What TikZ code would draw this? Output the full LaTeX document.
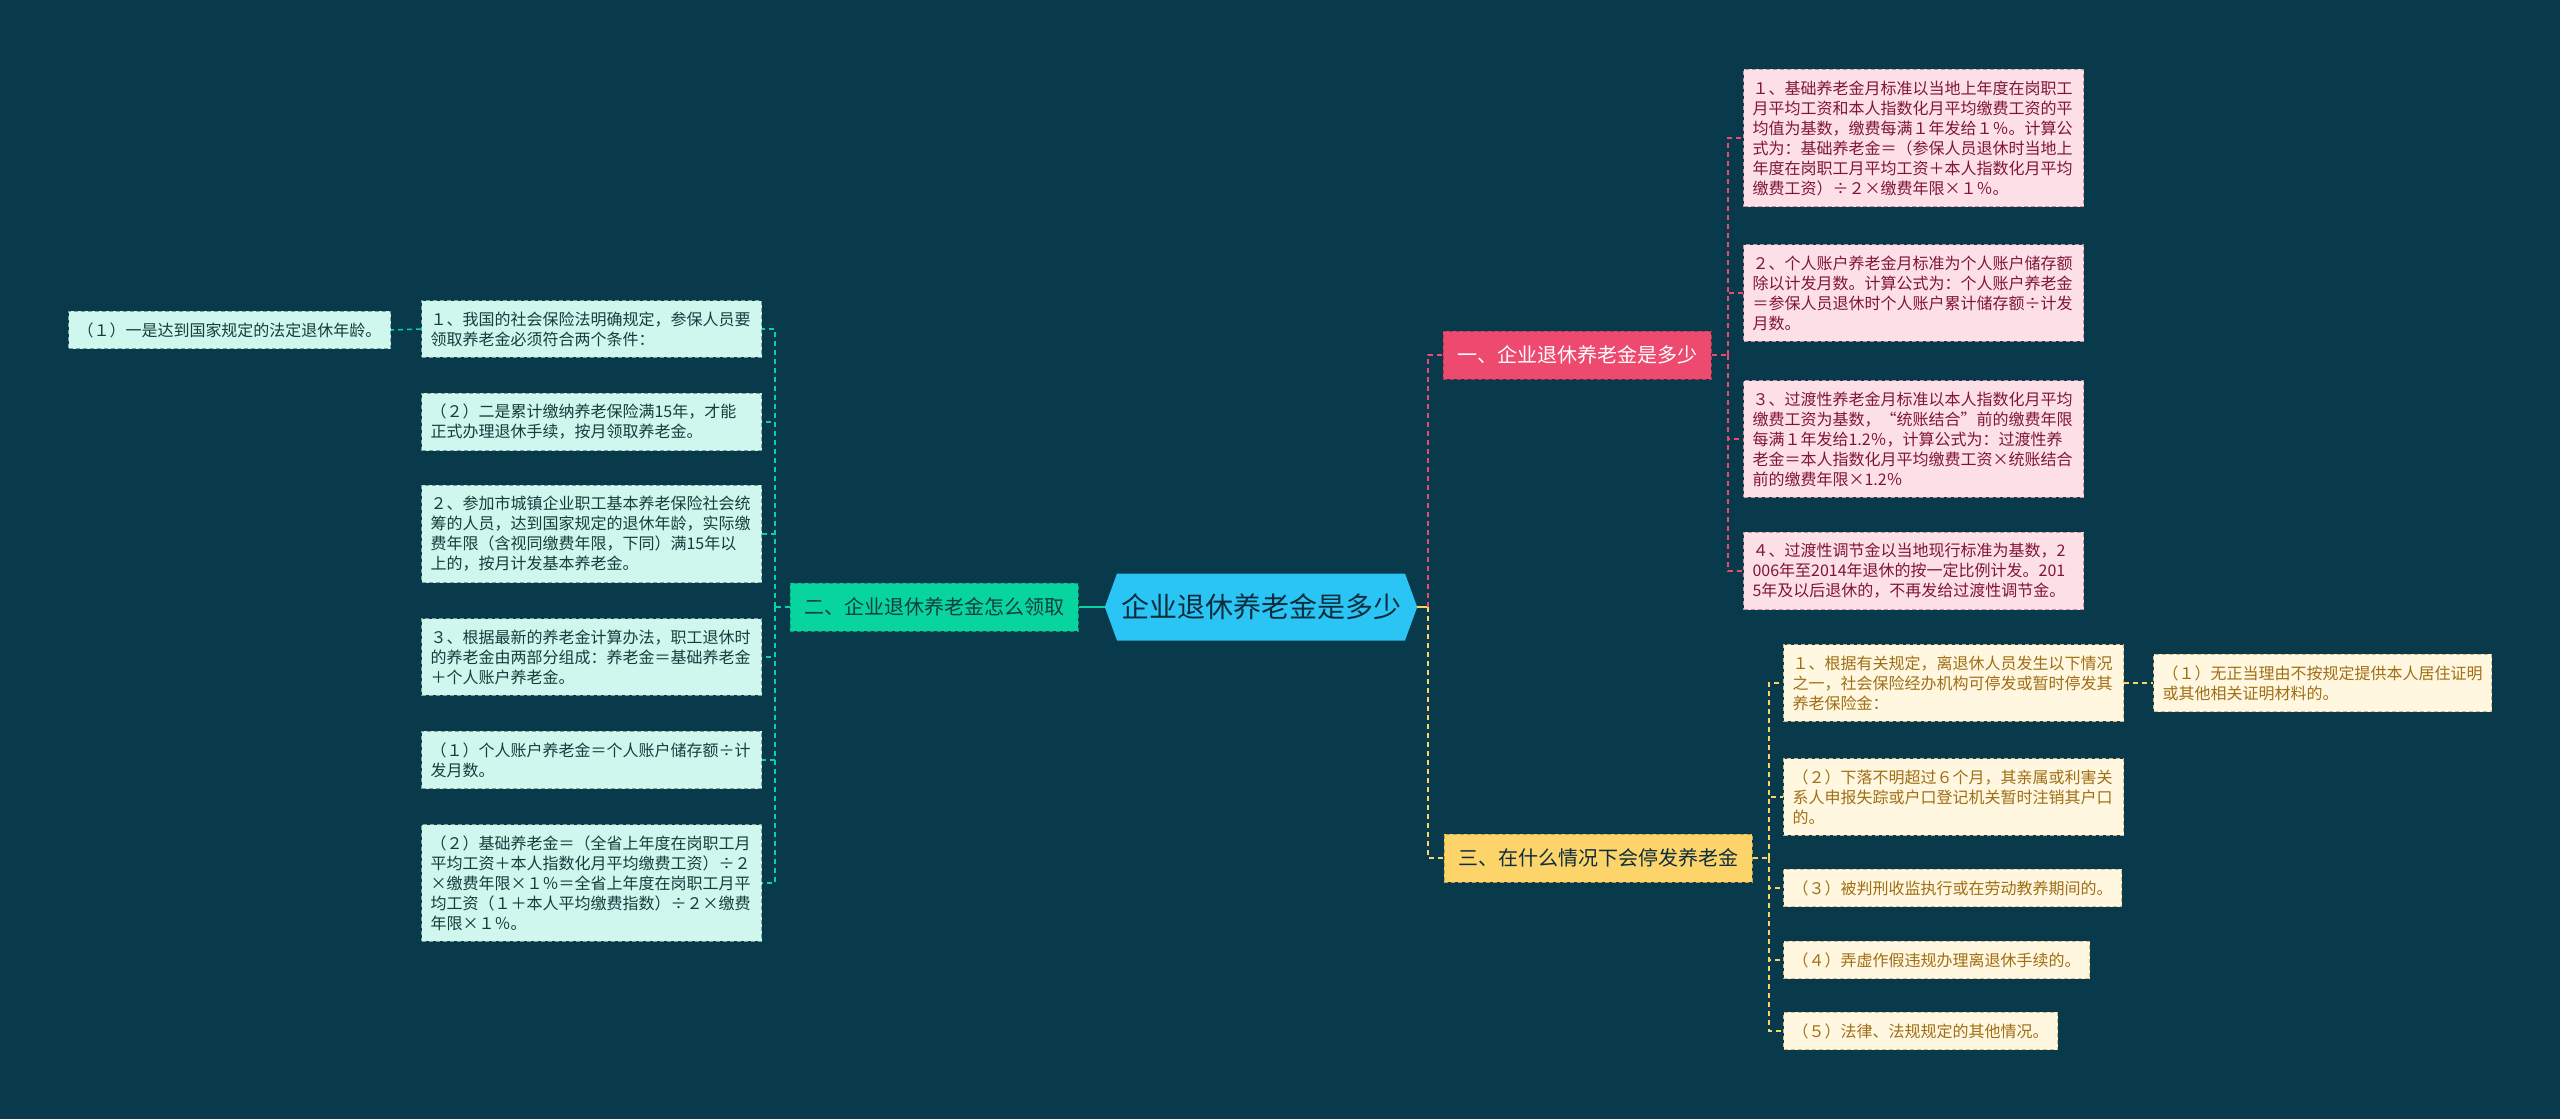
\documentclass[tikz,border=0pt]{standalone}
\usepackage{fontspec}
\setmainfont{Noto Sans CJK SC}
\usepackage{tikz}
\usetikzlibrary{shapes.symbols}
\definecolor{bgteal}{RGB}{8,58,76}
\definecolor{rootblue}{RGB}{42,196,245}
\definecolor{rootink}{RGB}{14,45,60}
\definecolor{pinkmain}{RGB}{238,73,110}
\definecolor{pinkpale}{RGB}{253,224,231}
\definecolor{pinkink}{RGB}{128,22,52}
\definecolor{greenmain}{RGB}{8,212,160}
\definecolor{greenpale}{RGB}{207,247,237}
\definecolor{greenink}{RGB}{18,62,62}
\definecolor{yellowmain}{RGB}{252,212,106}
\definecolor{yellowpale}{RGB}{255,247,224}
\definecolor{yellowink}{RGB}{160,110,20}

\begin{document}
\begin{tikzpicture}[x=1pt, y=-1pt,
    hub/.style={signal, signal to=west and east, signal pointer angle=140, fill=rootblue, text=rootink, minimum width=299pt, minimum height=67pt, inner xsep=4pt, font=\fontsize{28}{32}\selectfont},
    topic/.style={draw, dash pattern=on 4pt off 3pt, line width=1pt, minimum height=48pt, inner xsep=14pt, font=\fontsize{20}{24}\selectfont},
    leaf/.style={draw, dash pattern=on 4pt off 3pt, line width=1pt, align=left, anchor=west, inner xsep=9pt, inner ysep=11pt, font=\fontsize{16}{20}\selectfont},
    wide/.style={text width=322pt},
    pinkleaf/.style={leaf, fill=pinkpale, text=pinkink, draw=pinkink!40!pinkpale},
    greenleaf/.style={leaf, fill=greenpale, text=greenink, draw=greenink!45!greenpale},
    yellowleaf/.style={leaf, fill=yellowpale, text=yellowink, draw=yellowink!45!yellowpale},
    link/.style={line width=1.5pt, dash pattern=on 5pt off 4pt}
  ]
  \fill[bgteal] (0,0) rectangle (2560,1119);
  \useasboundingbox (0,0) rectangle (2560,1119);

  \node[hub] (root) at (1261,607) {企业退休养老金是多少};
  \node[topic, fill=pinkmain, text=white, draw=pinkmain!75!black] (one) at (1577,355) {一、企业退休养老金是多少};
  \node[topic, fill=greenmain, text=greenink, draw=greenmain!75!black] (two) at (934,607) {二、企业退休养老金怎么领取};
  \node[topic, fill=yellowmain, text=rootink, draw=yellowmain!75!black] (three) at (1598,858) {三、在什么情况下会停发养老金};

  \node[greenleaf] (ga) at (68,330) {（１）一是达到国家规定的法定退休年龄。};
  \node[greenleaf, wide] (g1) at (421,329) {１、我国的社会保险法明确规定，参保人员要\\领取养老金必须符合两个条件：};
  \node[greenleaf, wide] (g2) at (421,422) {（２）二是累计缴纳养老保险满15年，才能\\正式办理退休手续，按月领取养老金。};
  \node[greenleaf, wide] (g3) at (421,534) {２、参加市城镇企业职工基本养老保险社会统\\筹的人员，达到国家规定的退休年龄，实际缴\\费年限（含视同缴费年限，下同）满15年以\\上的，按月计发基本养老金。};
  \node[greenleaf, wide] (g4) at (421,657) {３、根据最新的养老金计算办法，职工退休时\\的养老金由两部分组成：养老金＝基础养老金\\＋个人账户养老金。};
  \node[greenleaf, wide] (g5) at (421,760) {（１）个人账户养老金＝个人账户储存额÷计\\发月数。};
  \node[greenleaf, wide] (g6) at (421,883) {（２）基础养老金＝（全省上年度在岗职工月\\平均工资＋本人指数化月平均缴费工资）÷２\\×缴费年限×１％＝全省上年度在岗职工月平\\均工资（１＋本人平均缴费指数）÷２×缴费\\年限×１％。};

  \node[pinkleaf, wide] (p1) at (1743,138) {１、基础养老金月标准以当地上年度在岗职工\\月平均工资和本人指数化月平均缴费工资的平\\均值为基数，缴费每满１年发给１％。计算公\\式为：基础养老金＝（参保人员退休时当地上\\年度在岗职工月平均工资＋本人指数化月平均\\缴费工资）÷２×缴费年限×１％。};
  \node[pinkleaf, wide] (p2) at (1743,293) {２、个人账户养老金月标准为个人账户储存额\\除以计发月数。计算公式为：个人账户养老金\\＝参保人员退休时个人账户累计储存额÷计发\\月数。};
  \node[pinkleaf, wide] (p3) at (1743,439) {３、过渡性养老金月标准以本人指数化月平均\\缴费工资为基数，“统账结合”前的缴费年限\\每满１年发给1.2％，计算公式为：过渡性养\\老金＝本人指数化月平均缴费工资×统账结合\\前的缴费年限×1.2％};
  \node[pinkleaf, wide] (p4) at (1743,571) {４、过渡性调节金以当地现行标准为基数，2\\006年至2014年退休的按一定比例计发。201\\5年及以后退休的，不再发给过渡性调节金。};

  \node[yellowleaf, wide] (y1) at (1783,683) {１、根据有关规定，离退休人员发生以下情况\\之一，社会保险经办机构可停发或暂时停发其\\养老保险金：};
  \node[yellowleaf] (ya) at (2153,683) {（１）无正当理由不按规定提供本人居住证明\\或其他相关证明材料的。};
  \node[yellowleaf, wide] (y2) at (1783,797) {（２）下落不明超过６个月，其亲属或利害关\\系人申报失踪或户口登记机关暂时注销其户口\\的。};
  \node[yellowleaf] (y3) at (1783,888) {（３）被判刑收监执行或在劳动教养期间的。};
  \node[yellowleaf] (y4) at (1783,960) {（４）弄虚作假违规办理离退休手续的。};
  \node[yellowleaf] (y5) at (1783,1031) {（５）法律、法规规定的其他情况。};

  \coordinate (lj) at (775,607);
  \coordinate (rj) at (1428,607);
  \coordinate (pj) at (1728,355);
  \coordinate (yj) at (1769,858);

  \draw[link, greenmain, solid] (root.west) -- (two.east);
  \draw[link, greenmain] (two.west) -- (lj);
  \foreach \n in {g1,g2,g3,g4,g5,g6}
    \draw[link, greenmain] (lj) |- (\n.east);
  \draw[link, greenmain] (g1.west) -- (ga.east);

  \draw[link, yellowmain, solid] (root.east) -- (rj);
  \draw[link, pinkmain] (rj) |- (one.west);
  \draw[link, yellowmain] (rj) |- (three.west);

  \draw[link, pinkmain] (one.east) -- (pj);
  \foreach \n in {p1,p2,p3,p4}
    \draw[link, pinkmain] (pj) |- (\n.west);

  \draw[link, yellowmain] (three.east) -- (yj);
  \foreach \n in {y1,y2,y3,y4,y5}
    \draw[link, yellowmain] (yj) |- (\n.west);
  \draw[link, yellowmain] (y1.east) -- (ya.west);
\end{tikzpicture}
\end{document}
